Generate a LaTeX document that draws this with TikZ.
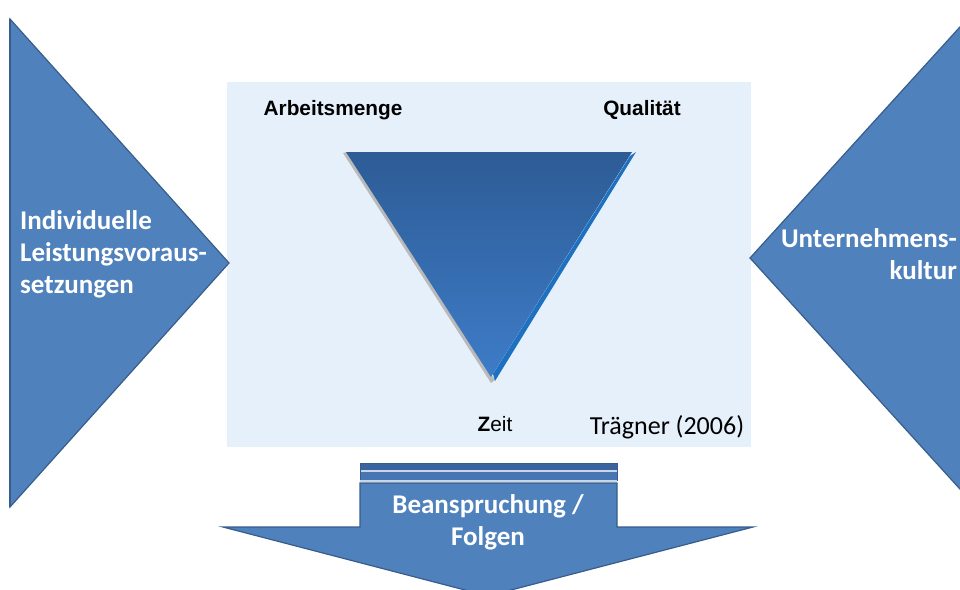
\documentclass[tikz,border=0pt]{standalone}
\usepackage{fontspec}
\setmainfont{Carlito}
\newfontfamily\arialfont{Liberation Sans}
\begin{document}
\definecolor{shapeblue}{RGB}{79,129,189}
\definecolor{shapeedge}{RGB}{56,93,138}
\definecolor{panelbg}{RGB}{230,240,250}
\definecolor{tritop}{RGB}{45,92,150}
\definecolor{tribottom}{RGB}{62,124,200}
\definecolor{tririm}{RGB}{30,112,192}
\definecolor{bandA}{RGB}{58,100,160}
\definecolor{bandB}{RGB}{72,118,178}
\definecolor{bandline}{RGB}{200,214,232}
\tikzset{
  bigshape/.style={fill=shapeblue, draw=shapeedge, line width=1.2pt, line join=miter},
  whitetext/.style={text=white, font=\fontsize{27}{32}\selectfont\bfseries, inner sep=0pt},
  cornerlabel/.style={font=\arialfont\bfseries\fontsize{20.8}{24}\selectfont, inner sep=0pt},
}
\begin{tikzpicture}[x=1pt, y=-1pt]
  \useasboundingbox (0,0) rectangle (960,589);
  \clip (0,0) rectangle (960,589);

  % central panel
  \fill[panelbg] (227,82) rectangle (751,447);

  % left input triangle
  \draw[bigshape] (10,19) -- (229,263) -- (10,507) -- cycle;
  \draw[shapeedge, line width=2pt] (10,19) -- (10,507);
  \node[whitetext, align=left, anchor=west] (indiv) at (20,254)
    {Individuelle\\Leistungsvoraus-\\setzungen};

  % right input triangle
  \draw[bigshape] (969,17) -- (750,258) -- (969,499) -- cycle;
  \node[whitetext, align=right, anchor=east] (kultur) at (957,254)
    {Unternehmens-\\kultur};

  % inverted triangle with soft shadow and rim
  \fill[gray!55] (343,153) -- (491,383) -- (495,380) -- (347,152) -- cycle;
  \fill[tririm] (636,152) -- (495,381) -- (493,374) -- (630,156) -- cycle;
  \shade[top color=tritop, bottom color=tribottom]
    (346,152) -- (632,152) -- (491,377) -- cycle;
  \coordinate (tA) at (346,152);
  \coordinate (tQ) at (636,152);
  \coordinate (tZ) at (493,379);

  \node[cornerlabel] (menge) at (333,110) {Arbeitsmenge};
  \node[cornerlabel] (qual) at (642,110) {Qualität};
  \node[font=\arialfont\fontsize{20.8}{24}\selectfont, inner sep=0pt] (zeit) at (495,424) {\textbf{Z}eit};
  \node[font=\fontsize{26}{30}\selectfont, inner sep=0pt] (src) at (667,427) {Trägner (2006)};

  % output arrow
  \fill[bandA] (360,463) rectangle (617,470);
  \fill[bandline] (360,470) rectangle (617,472);
  \fill[bandB] (360,472) rectangle (617,480);
  \draw[shapeedge, line width=0.8pt] (360,463) rectangle (617,480);
  \fill[bandline] (360,480) rectangle (617,482);
  \draw[bigshape] (360,483) -- (617,483) -- (617,527) -- (753,527)
    -- (488,596) -- (223,527) -- (360,527) -- cycle;
  \node[whitetext, align=center] (folgen) at (488,522)
    {Beanspruchung /\\Folgen};
\end{tikzpicture}
\end{document}
